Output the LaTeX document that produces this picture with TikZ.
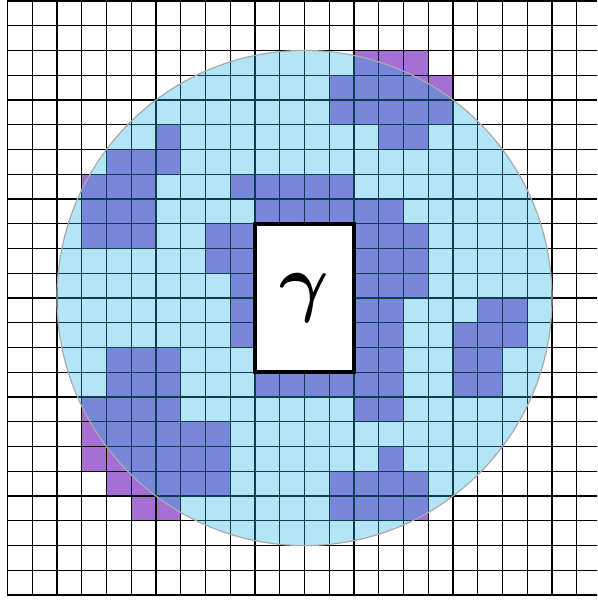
\documentclass[tikz,border=0pt]{standalone}
\usepackage{graphicx}
\usepackage{xcolor}
\usepackage{tikz}

\definecolor{cellviolet}{RGB}{166,111,212}
\definecolor{discblue}{RGB}{38,180,232}
\definecolor{discrim}{RGB}{170,170,170}

\begin{document}
\begin{tikzpicture}[
    x=24.75pt, y=24.75pt,
    cell/.style={fill=cellviolet},
    gridline/.style={draw=black, line width=1.2pt},
    disc/.style={fill=discblue, fill opacity=0.35, draw=discrim, line width=1.2pt},
    gammabox/.style={rectangle, draw, fill=white, line width=3.6pt, minimum width=99pt, minimum height=148.5pt, inner sep=0pt},
]

\clip (-0.30,-0.24) rectangle (23.82,24.04);

% === CELLS (row from top / columns) ===
\foreach \r/\cols in {2/{14,15,16}, 3/{13,14,15,16,17}, 4/{13,14,15,16,17}, 5/{6,15,16},
    6/{4,5,6}, 7/{3,4,5,9,10,11,12,13}, 8/{3,4,5,10,11,12,13,14,15},
    9/{3,4,5,8,9,14,15,16}, 10/{8,9,14,15,16}, 11/{9,14,15,16},
    12/{9,14,15,19,20}, 13/{9,14,15,18,19,20}, 14/{4,5,6,14,15,18,19},
    15/{4,5,6,10,11,12,13,14,15,18,19}, 16/{3,4,5,6,14,15}, 17/{3,4,5,6,7,8},
    18/{3,4,5,6,7,8,15}, 19/{4,5,6,7,8,13,14,15,16}, 20/{5,6,13,14,15,16}}
{
    \foreach \c in \cols {
        \fill[cell] (\c,23-\r) rectangle ++(1,1);
    }
}

% === GRID ===
\draw[gridline, step={(1,1)}] (0,0) grid (24,24.5);

% === DISC ===
\draw[disc] (12,12) circle (10);

% === GAMMA ===
\node[gammabox] (gamma) at (12,12) {\scalebox{7.6}{\boldmath$\gamma$}};

\end{tikzpicture}
\end{document}
